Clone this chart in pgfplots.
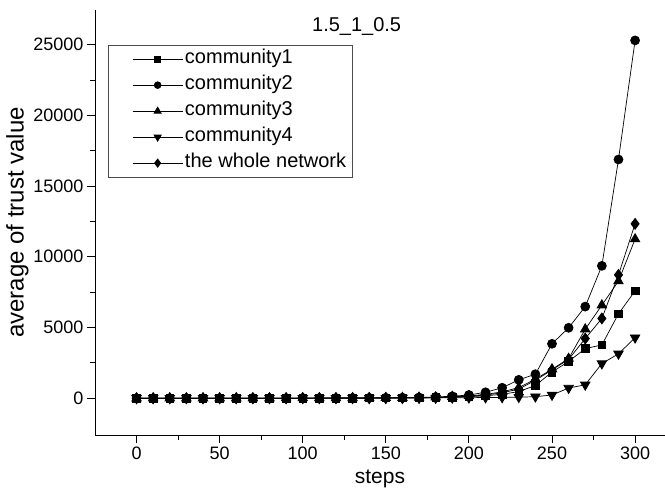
\documentclass[border=0pt]{standalone}
\usepackage{fontspec}
\setmainfont{Liberation Sans}
\usepackage{pgfplots}
\pgfplotsset{compat=1.18}
\begin{document}
\begin{tikzpicture}
\begin{axis}[
 scale only axis, width=570pt, height=425pt,
 xmin=-25, xmax=318, ymin=-2600, ymax=27450,
 axis x line*=bottom, axis y line*=left,
 axis line style={-, line width=0.9pt},
 xtick={0,50,...,300}, minor x tick num=1,
 ytick={0,5000,...,25000}, minor y tick num=1,
 tick align=outside, major tick length=8pt, minor tick length=4.5pt,
 every tick/.style={line width=0.9pt, black},
 scaled y ticks=false,
 yticklabel style={/pgf/number format/fixed,/pgf/number format/1000 sep={}},
 /pgf/number format/assume math mode=true,
 tick label style={font=\fontsize{18}{20}\selectfont},
 xlabel={steps}, ylabel={average of trust value},
 xlabel style={font=\fontsize{21}{24}\selectfont, yshift=-4pt},
 ylabel style={font=\fontsize{24}{26}\selectfont, yshift=-2pt},
 clip=false,
 every axis plot/.append style={line width=0.7pt, black},
 legend cell align=left,
 legend style={at={(rel axis cs:0.0228,0.918)}, anchor=north west,
   draw=black!70, line width=0.6pt, font=\fontsize{20}{22}\selectfont,
   inner xsep=4pt, inner ysep=3.5pt, row sep=5pt,
   nodes={inner sep=2pt, text height=13pt, text depth=4pt}},
 legend image code/.code={\path (-20pt,0pt);
   \draw[mark repeat=2,mark phase=2,#1,every mark/.append style={scale=0.75}] plot coordinates {(0pt,0pt) (25pt,0pt) (50pt,0pt)};},
]
\coordinate (sw) at (rel axis cs:0,0);
\coordinate (ne) at (rel axis cs:1,1);
\addplot[mark=square*, mark size=3.8pt, mark options={fill=black}] coordinates {
(0,1)(10,1)(20,1)(30,2)(40,2)(50,2)(60,3)(70,3)(80,4)(90,5)(100,6)(110,7)(120,9)(130,11)(140,14)(150,18)
(160,25)(170,35)(180,50)(190,75)(200,110)(210,170)(220,280)(230,470)(240,900)(250,1850)(260,2600)
(270,3510)(280,3770)(290,5970)(300,7590)};
\addlegendentry{community1}
\addplot[mark=*, mark size=4.5pt, mark options={fill=black}] coordinates {
(0,1)(10,1)(20,2)(30,2)(40,3)(50,3)(60,4)(70,5)(80,6)(90,8)(100,10)(110,12)(120,15)(130,19)(140,24)(150,31)
(160,40)(170,60)(180,90)(190,140)(200,230)(210,420)(220,740)(230,1300)(240,1700)(250,3850)(260,4980)
(270,6480)(280,9360)(290,16880)(300,25300)};
\addlegendentry{community2}
\addplot[mark=triangle*, mark size=5.5pt, mark options={fill=black}] coordinates {
(0,1)(10,1)(20,2)(30,2)(40,2)(50,3)(60,3)(70,4)(80,5)(90,6)(100,8)(110,10)(120,12)(130,15)(140,19)(150,24)
(160,30)(170,45)(180,65)(190,100)(200,160)(210,270)(220,450)(230,750)(240,1350)(250,2050)(260,2800)
(270,4880)(280,6580)(290,8280)(300,11250)};
\addlegendentry{community3}
\addplot[mark=triangle*, mark size=5.5pt, mark options={fill=black, rotate=180}] coordinates {
(0,0)(10,0)(20,1)(30,1)(40,1)(50,1)(60,1)(70,2)(80,2)(90,2)(100,3)(110,3)(120,4)(130,5)(140,6)(150,8)
(160,10)(170,15)(180,20)(190,30)(200,40)(210,50)(220,60)(230,75)(240,110)(250,230)(260,720)
(270,950)(280,2450)(290,3140)(300,4280)};
\addlegendentry{community4}
\addplot[mark=diamond*, mark size=5.5pt, mark options={fill=black}] coordinates {
(0,1)(10,1)(20,1)(30,2)(40,2)(50,2)(60,3)(70,3)(80,4)(90,5)(100,7)(110,8)(120,10)(130,12)(140,16)(150,20)
(160,25)(170,38)(180,55)(190,85)(200,135)(210,230)(220,380)(230,650)(240,1270)(250,2000)(260,2750)
(270,4220)(280,5640)(290,8720)(300,12330)};
\addlegendentry{the whole network}
\node[font=\fontsize{20}{22}\selectfont] at (rel axis cs:0.459,0.962) {1.5\_1\_0.5};
\end{axis}
\pgfresetboundingbox
\useasboundingbox ([shift={(-95pt,-55pt)}]sw) rectangle ([shift={(0pt,10pt)}]ne);
\end{tikzpicture}
\end{document}
